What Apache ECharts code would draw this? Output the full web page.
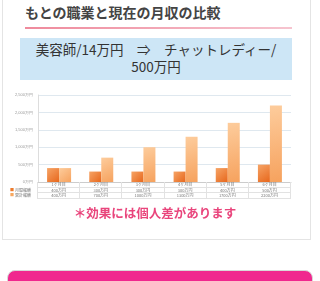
<!DOCTYPE html>
<html>
<head>
<meta charset="utf-8">
<script src="https://cdn.jsdelivr.net/npm/echarts@6/dist/echarts.min.js"></script>
<style>
* { margin: 0; padding: 0; }
body { width: 320px; height: 281px; background: #fff; position: relative; overflow: hidden;
  font-family: "Noto Sans CJK JP", "Noto Sans", sans-serif; }
#card { position: absolute; left: 2px; top: -2px; width: 307px; height: 241px; border: 1px solid #e4e4e4; border-top: none; }
#title { position: absolute; left: 25px; top: 2px; font-size: 14px; font-weight: bold; color: #444; }
#rule { position: absolute; left: 25px; top: 27px; width: 267px; height: 2px;
  background: linear-gradient(to right, #ef8a9c, #f6c4cf); }
#box { position: absolute; left: 20px; top: 38px; width: 272px; height: 42px; background: #cde6f6;
  text-align: center; font-size: 13.5px; line-height: 17px; color: #333; padding-top: 3px; box-sizing: border-box; }
#chart { position: absolute; left: 0; top: 85px; width: 320px; height: 120px; }
#tbl { position: absolute; left: 10px; top: 182px; border-collapse: collapse; font-size: 4px; color: #777; }
#tbl td { height: 4.5px; line-height: 4.5px; padding: 0; text-align: center; border: 1px solid #e2e2e2; border-top: none; white-space: nowrap; }
#tbl td.lab { width: 27px; text-align: left; border: none; }
#note { position: absolute; left: 0; top: 203px; width: 310px; text-align: center; font-size: 12.5px; font-weight: bold; color: #e9457c; }
#btn { position: absolute; left: 7px; top: 270px; width: 304px; height: 30px; border-radius: 8px;
  background: #f0288e; border: 1px solid #d8d8d8; }
</style>
</head>
<body>
<div id="card"></div>
<div id="title">もとの職業と現在の月収の比較</div>
<div id="rule"></div>
<div id="box">美容師/14万円　⇒　チャットレディー/<br>500万円</div>
<div id="chart"></div>
<table id="tbl"></table>
<div id="note">＊効果には個人差があります</div>
<div id="btn"></div>
<script>
var months = ['1ヶ月目', '2ヶ月目', '3ヶ月目', '4ヶ月目', '5ヶ月目', '6ヶ月目'];
var monthly = [400, 300, 300, 300, 400, 500];
var total = [400, 700, 1000, 1300, 1700, 2200];
var seriesNames = ['月間報酬', '累計報酬'];
var colWidth = 42.2;

// table under the chart
var tbl = document.getElementById('tbl');
var html = '<tr><td class="lab"></td>';
months.forEach(function (m) { html += '<td style="width:' + (colWidth - 1) + 'px">' + m + '</td>'; });
html += '</tr>';
[monthly, total].forEach(function (arr, i) {
  var c = i === 0 ? '#ec7a2c' : '#f7a860';
  html += '<tr><td class="lab"><span style="color:' + c + '">■</span> ' + seriesNames[i] + '</td>';
  arr.forEach(function (v) { html += '<td>' + v + '万円</td>'; });
  html += '</tr>';
});
tbl.innerHTML = html;

var chart = echarts.init(document.getElementById('chart'));
chart.setOption({
  animation: false,
  grid: { left: 38, right: 29, top: 10, bottom: 23 },
  xAxis: {
    type: 'category',
    data: months,
    axisLine: { lineStyle: { color: '#cccccc' } },
    axisTick: { show: false },
    axisLabel: { show: false }
  },
  yAxis: {
    type: 'value',
    min: 0,
    max: 2500,
    interval: 500,
    axisLine: { show: true, lineStyle: { color: '#dddddd' } },
    axisLabel: { formatter: '{value}万円', fontSize: 4, color: '#999', margin: 5 },
    splitLine: { lineStyle: { color: '#dfe8ef' } }
  },
  series: [
    {
      name: seriesNames[0],
      type: 'bar',
      barWidth: 12,
      barGap: '0%',
      data: monthly,
      itemStyle: {
        color: new echarts.graphic.LinearGradient(0, 0, 1, 1, [
          { offset: 0, color: '#f6a466' },
          { offset: 1, color: '#e7671c' }
        ])
      }
    },
    {
      name: seriesNames[1],
      type: 'bar',
      barWidth: 12,
      data: total,
      itemStyle: {
        color: new echarts.graphic.LinearGradient(0, 0, 1, 1, [
          { offset: 0, color: '#fdcc9c' },
          { offset: 1, color: '#f6a25e' }
        ])
      }
    }
  ]
});
</script>
</body>
</html>
